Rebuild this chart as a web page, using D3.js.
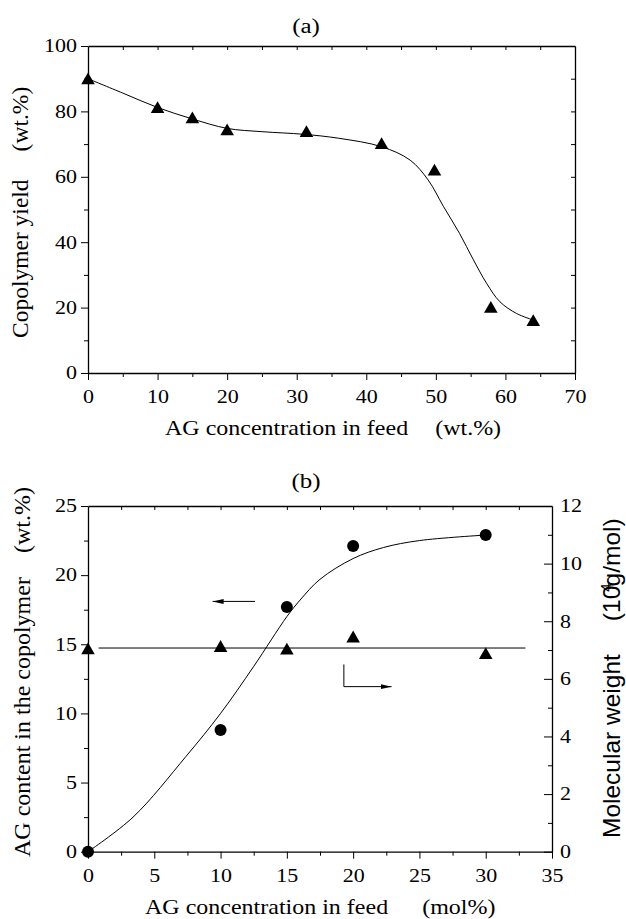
<!DOCTYPE html>
<html>
<head>
<meta charset="utf-8">
<script src="https://cdn.jsdelivr.net/npm/d3@7"></script>
<style>
  body { margin: 0; background: #fff; }
  svg { display: block; }
</style>
</head>
<body>
<svg id="chart" width="626" height="919"></svg>
<script>
"use strict";

// ---- panel (a): copolymer yield vs AG in feed (wt.%) ----
const feedWt = [0, 10, 15, 20, 31.4, 42.2, 49.8, 57.9, 64.0];
const yieldPct = [90.1, 81.3, 78.2, 74.5, 74.0, 70.3, 62.2, 20.2, 16.2];
// the smooth fit line as drawn in the figure
const fitAx = [0, 5, 10, 15, 20, 25, 31, 36, 42.2, 46.3, 48.9, 51.1, 53.4, 55.4, 57.3, 59.2, 61.6, 64];
const fitAy = [90, 85.6, 81.2, 77.7, 74.8, 73.8, 73.0, 71.8, 69.2, 65.1, 59.0, 50.9, 42.7, 34.6, 27.4, 21.8, 18.2, 16.2];
const xTicksA = [0, 10, 20, 30, 40, 50, 60, 70];
const yTicksA = [0, 20, 40, 60, 80, 100];

// ---- panel (b): AG content (left) and molecular weight (right) vs AG in feed (mol%) ----
const feedMol = [0, 10, 15, 20, 30];
const agContent = [0, 8.8, 17.7, 22.1, 22.9];
const molWeight = [7.06, 7.14, 7.05, 7.47, 6.89];
const fitBx = [0, 3.4, 7.4, 10, 12.5, 15, 16, 17.5, 20, 22.3, 25, 30];
const fitBy = [0, 2.5, 6.9, 10.0, 13.4, 17.0, 18.2, 19.7, 21.2, 22.0, 22.5, 22.9];
const mwLineX = [0.8, 33];
const mwLineY = [7.07, 7.07];
const xTicksB = [0, 5, 10, 15, 20, 25, 30, 35];
const yTicksB = [0, 5, 10, 15, 20, 25];
const yTicksB2 = [0, 2, 4, 6, 8, 10, 12];

const serif = "'Liberation Serif', 'Times New Roman', serif";
const sans = "'Liberation Sans', Arial, sans-serif";
const squash = 0.83;  // the figure's horizontal text is a bit flattened

let svg = d3.select('#chart');

svg.append('defs').append('marker')
   .attr('id', 'head')
   .attr('markerUnits', 'userSpaceOnUse')
   .attr('markerWidth', 12).attr('markerHeight', 6)
   .attr('refX', 11).attr('refY', 3)
   .attr('orient', 'auto')
   .append('path')
   .attr('d', 'M0,0.5 L11,3 L0,5.5 Z')
   .attr('fill', '#000');

// scales
const xA = d3.scaleLinear().domain([0, 70]).range([88, 575]);
const yA = d3.scaleLinear().domain([0, 100]).range([373, 46]);
const xB = d3.scaleLinear().domain([0, 35]).range([88, 552]);
const yB = d3.scaleLinear().domain([0, 25]).range([851.7, 506]);
const yB2 = d3.scaleLinear().domain([0, 12]).range([851.7, 506]);

function styleAxis(g) {
  g.select('.domain').attr('stroke', '#000').attr('stroke-width', 1.3);
  g.selectAll('.tick line').attr('stroke', '#000').attr('stroke-width', 1);
  g.selectAll('text').attr('font-family', serif).attr('font-size', 22).attr('fill', '#000');
}

// draws a frame: labelled bottom/left axes plus minor and inward ticks
function frame(x, y, opts) {
  let [x0, x1] = x.range();
  let [y0, y1] = y.range();

  let bottom = svg.append('g').attr('transform', `translate(0,${y0})`)
    .call(d3.axisBottom(x).tickValues(opts.xTicks).tickSize(7).tickSizeOuter(0));
  styleAxis(bottom);
  bottom.selectAll('text').attr('y', 0).attr('dy', 0)
        .attr('transform', `translate(0,30) scale(1,${squash})`);
  svg.append('g').attr('transform', `translate(0,${y0})`)
     .call(d3.axisBottom(x).tickValues(opts.xMinor).tickSize(4).tickFormat(''))
     .call(g => g.select('.domain').remove())
     .call(styleAxis);

  let top = svg.append('g').attr('transform', `translate(0,${y1})`)
    .call(d3.axisTop(x).tickValues(opts.xTop).tickSize(-4).tickSizeOuter(0).tickFormat(''));
  styleAxis(top);

  let left = svg.append('g').attr('transform', `translate(${x0},0)`)
    .call(d3.axisLeft(y).tickValues(opts.yTicks).tickSize(7).tickSizeOuter(0));
  styleAxis(left);
  left.selectAll('text').attr('x', -11).attr('dy', '0.32em')
      .attr('transform', `scale(1,${squash})`);
  svg.append('g').attr('transform', `translate(${x0},0)`)
     .call(d3.axisLeft(y).tickValues(opts.yMinor).tickSize(4).tickFormat(''))
     .call(g => g.select('.domain').remove())
     .call(styleAxis);
}

// ---------- panel (a) ----------
frame(xA, yA, {
  xTicks: xTicksA,
  xMinor: d3.range(5, 70, 10),
  xTop: d3.range(5, 70, 5),
  yTicks: yTicksA,
  yMinor: d3.range(10, 100, 20)
});
let rightA = svg.append('g').attr('transform', `translate(${xA.range()[1]},0)`)
  .call(d3.axisRight(yA).tickValues(d3.range(10, 100, 10)).tickSize(-4).tickSizeOuter(0).tickFormat(''));
styleAxis(rightA);

const line = d3.line().curve(d3.curveCatmullRom.alpha(0.5));

svg.append('path')
   .attr('d', line(fitAx.map((v, i) => [xA(v), yA(fitAy[i])])))
   .attr('fill', 'none').attr('stroke', '#000').attr('stroke-width', 1);

const triSize = 80;
const triShift = Math.sqrt(triSize / (Math.sqrt(3) * 3)) / 2;  // centre the triangle's box on the value
const tri = d3.symbol().type(d3.symbolTriangle).size(triSize);

svg.append('g').selectAll('path')
   .data(feedWt.map((v, i) => [v, yieldPct[i]]))
   .join('path')
   .attr('d', tri)
   .attr('transform', d => `translate(${xA(d[0])},${yA(d[1]) + triShift})`)
   .attr('fill', '#000');

// ---------- panel (b) ----------
frame(xB, yB, {
  xTicks: xTicksB,
  xMinor: d3.range(2.5, 35, 5),
  xTop: d3.range(2.5, 35, 2.5),
  yTicks: yTicksB,
  yMinor: d3.range(2.5, 25, 5)
});
let rightB = svg.append('g').attr('transform', `translate(${xB.range()[1]},0)`)
  .call(d3.axisRight(yB2).tickValues(yTicksB2).tickSize(-8).tickSizeOuter(0));
styleAxis(rightB);
rightB.selectAll('text').attr('x', 8).attr('dy', '0.32em')
      .attr('transform', `scale(1,${squash})`);
svg.append('g').attr('transform', `translate(${xB.range()[1]},0)`)
   .call(d3.axisRight(yB2).tickValues(d3.range(1, 12, 2)).tickSize(-4).tickFormat(''))
   .call(g => g.select('.domain').remove())
   .call(styleAxis);

svg.append('path')
   .attr('d', line(fitBx.map((v, i) => [xB(v), yB(fitBy[i])])))
   .attr('fill', 'none').attr('stroke', '#000').attr('stroke-width', 1);

svg.append('path')
   .attr('d', d3.line()(mwLineX.map((v, i) => [xB(v), yB2(mwLineY[i])])))
   .attr('fill', 'none').attr('stroke', '#000').attr('stroke-width', 1);

svg.append('g').selectAll('circle')
   .data(feedMol.map((v, i) => [v, agContent[i]]))
   .join('circle')
   .attr('cx', d => xB(d[0])).attr('cy', d => yB(d[1]))
   .attr('r', 6).attr('fill', '#000');

svg.append('g').selectAll('path')
   .data(feedMol.map((v, i) => [v, molWeight[i]]))
   .join('path')
   .attr('d', tri)
   .attr('transform', d => `translate(${xB(d[0])},${yB2(d[1]) + triShift})`)
   .attr('fill', '#000');

// arrows telling which axis each series belongs to
svg.append('path')
   .attr('d', `M${xB(12.6)},${yB(18.1)} H${xB(9.4)}`)
   .attr('stroke', '#000').attr('stroke-width', 1).attr('fill', 'none')
   .attr('marker-end', 'url(#head)');
svg.append('path')
   .attr('d', `M${xB(19.3)},${yB2(6.5)} V${yB2(5.73)} H${xB(22.9)}`)
   .attr('stroke', '#000').attr('stroke-width', 1).attr('fill', 'none')
   .attr('marker-end', 'url(#head)');

// ---------- titles and axis labels ----------
function flatText(x, y, size, anchor) {
  return svg.append('text')
            .attr('transform', `translate(${x},${y}) scale(1,${squash})`)
            .attr('font-family', serif).attr('font-size', size)
            .attr('text-anchor', anchor).attr('fill', '#000');
}

flatText(306, 33, 25, 'middle').text('(a)');
flatText(306, 488, 25, 'middle').text('(b)');

let xtA = flatText(165, 435, 24, 'start');
xtA.append('tspan').text('AG concentration in feed');
xtA.append('tspan').attr('dx', 27).text('(wt.%)');

let xtB = flatText(145, 914, 24, 'start');
xtB.append('tspan').text('AG concentration in feed');
xtB.append('tspan').attr('dx', 34).text('(mol%)');

let ytA = svg.append('text')
  .attr('transform', 'translate(28,338) rotate(-90)')
  .attr('font-family', serif).attr('font-size', 23.5).attr('fill', '#000');
ytA.append('tspan').text('Copolymer yield');
ytA.append('tspan').attr('dx', 28).text('(wt.%)');

let ytB = svg.append('text')
  .attr('transform', 'translate(30,857) rotate(-90)')
  .attr('font-family', serif).attr('font-size', 24).attr('fill', '#000');
ytB.append('tspan').text('AG content in the copolymer');
ytB.append('tspan').attr('dx', 24).text('(wt.%)');

let ytB2 = svg.append('text')
  .attr('transform', 'translate(620,838) rotate(-90)')
  .attr('font-family', sans).attr('font-size', 24.5).attr('fill', '#000');
ytB2.append('tspan').text('Molecular weight');
ytB2.append('tspan').attr('dx', 33).text('(10');
ytB2.append('tspan').attr('dx', -6).attr('dy', -9).attr('font-size', 15).text('4');
ytB2.append('tspan').attr('dx', -3).attr('dy', 9).text('g/mol)');
</script>
</body>
</html>
